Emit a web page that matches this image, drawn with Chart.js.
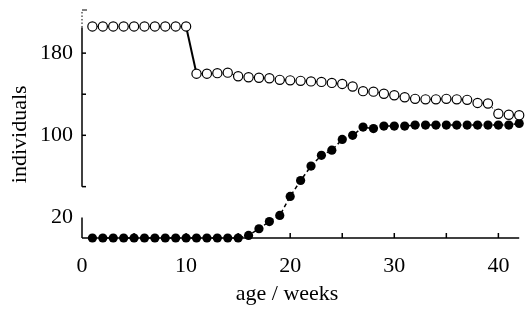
<!DOCTYPE html>
<html>
<head>
<meta charset="utf-8">
<script src="https://cdn.jsdelivr.net/npm/chart.js@4/dist/chart.umd.min.js"></script>
<style>
  html, body { margin: 0; padding: 0; background: #fff; }
  #wrap { width: 525px; height: 309px; position: relative; }
</style>
</head>
<body>
<div id="wrap"><canvas id="chart"></canvas></div>
<script>
"use strict";

// age in weeks
const weeks = Array.from({ length: 42 }, (_, i) => i + 1);

// open circles
const openCounts = [
    206, 206, 206, 206, 206, 206, 206, 206, 206, 206,
    160, 160, 160.5, 161, 157.5, 156.5, 156, 155.5, 154, 153.5,
    153, 152.5, 152, 151, 150, 147.5, 143, 142.5, 140.5, 139,
    137, 135.5, 135, 135, 135.5, 135, 134.5, 131.5, 131, 121,
    120, 119.5
];

// filled circles
const filledCounts = [
    0, 0, 0, 0, 0, 0, 0, 0, 0, 0,
    0, 0, 0, 0, 0, 2.5, 9, 16, 22, 40.5,
    56, 70, 80.5, 85.5, 96, 100, 108, 106.5, 109, 109,
    109, 110, 110, 110, 110, 110, 110, 110, 110, 110,
    110, 111.5
];

const xTickLabels = [0, 10, 20, 30, 40];
const yTickLabels = [20, 100, 180];
const xMinorTicks = [5, 10, 15, 20, 25, 30, 35, 40];
const yMinorTicks = [100, 140, 180];

const FONT = "'Liberation Serif', 'DejaVu Serif', serif";

const toPoints = vals => vals.map((v, i) => ({ x: weeks[i], y: v }));

// axes with inward ticks and the broken y axis
const axesPlugin = {
    id: 'axes',
    beforeDatasetsDraw(chart) {
        const { ctx, scales: { x, y } } = chart;
        const x0 = x.getPixelForValue(0);
        const y0 = y.getPixelForValue(0);
        const seg = (a, b, c, d) => { ctx.beginPath(); ctx.moveTo(a, b); ctx.lineTo(c, d); ctx.stroke(); };
        ctx.save();
        ctx.strokeStyle = '#000';
        ctx.lineWidth = 1.5;
        seg(x0, y0, x.getPixelForValue(x.max), y0);
        xMinorTicks.forEach(v => {
            const px = x.getPixelForValue(v);
            seg(px, y0, px, y0 - 5);
        });
        // lower piece of y axis
        seg(x0, y0, x0, y.getPixelForValue(20));
        // upper piece
        seg(x0, y.getPixelForValue(50), x0, y.getPixelForValue(205));
        seg(x0, y.getPixelForValue(50), x0 + 4, y.getPixelForValue(50));
        yMinorTicks.forEach(v => {
            const py = y.getPixelForValue(v);
            seg(x0, py, x0 + 4, py);
        });
        ctx.lineWidth = 1;
        ctx.setLineDash([1.5, 2]);
        seg(x0, y.getPixelForValue(205), x0, y.getPixelForValue(y.max));
        ctx.setLineDash([]);
        seg(x0, y.getPixelForValue(y.max), x0 + 5, y.getPixelForValue(y.max));
        ctx.restore();
    },
    afterDraw(chart) {
        const { ctx, scales: { x, y } } = chart;
        ctx.save();
        ctx.fillStyle = '#000';
        ctx.font = `22px ${FONT}`;
        ctx.textAlign = 'center';
        ctx.textBaseline = 'alphabetic';
        ctx.fillText('age / weeks', x.getPixelForValue(19.7), 300);
        ctx.translate(26, y.getPixelForValue(101));
        ctx.rotate(-Math.PI / 2);
        ctx.fillText('individuals', 0, 0);
        ctx.restore();
    }
};

new Chart(document.getElementById('chart'), {
    type: 'line',
    data: {
        datasets: [
            {
                data: toPoints(openCounts),
                borderColor: '#000',
                borderWidth: 1,
                borderDash: [2, 2],
                pointRadius: 4.6,
                pointBorderWidth: 1.2,
                pointBackgroundColor: '#fff',
                pointBorderColor: '#000',
                clip: false,
                segment: {
                    borderWidth: c => c.p0DataIndex === 9 ? 2 : 1,
                    borderDash: c => c.p0DataIndex === 9 ? [] : [2, 2]
                }
            },
            {
                data: toPoints(filledCounts),
                borderColor: '#000',
                borderWidth: 1.5,
                borderDash: [4, 3],
                pointRadius: 4.6,
                pointBorderWidth: 0,
                pointBackgroundColor: '#000',
                pointBorderColor: '#000',
                clip: false
            }
        ]
    },
    options: {
        responsive: true,
        maintainAspectRatio: false,
        animation: false,
        devicePixelRatio: 1,
        layout: { padding: { top: 10, right: 2, left: 0, bottom: 0 } },
        plugins: { legend: { display: false }, tooltip: { enabled: false } },
        scales: {
            x: {
                type: 'linear',
                min: 0,
                max: 42,
                grid: { display: false, drawTicks: false },
                border: { display: false },
                afterBuildTicks: s => { s.ticks = xTickLabels.map(v => ({ value: v })); },
                afterFit: s => { s.height = 71; s.paddingLeft = 0; s.paddingRight = 0; },
                ticks: { color: '#000', padding: 15, maxRotation: 0, font: { family: FONT, size: 22 } }
            },
            y: {
                type: 'linear',
                min: 0,
                max: 222,
                grid: { display: false, drawTicks: false },
                border: { display: false },
                afterBuildTicks: s => { s.ticks = yTickLabels.map(v => ({ value: v })); },
                afterFit: s => { s.width = 82; s.paddingTop = 0; s.paddingBottom = 0; },
                ticks: { color: '#000', padding: 9, font: { family: FONT, size: 22 } }
            }
        }
    },
    plugins: [axesPlugin]
});
</script>
</body>
</html>
